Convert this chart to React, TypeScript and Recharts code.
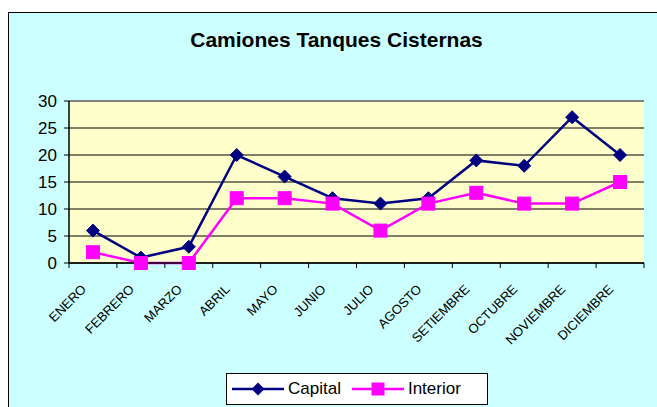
import React from 'react';
import { LineChart, Line, XAxis, YAxis, CartesianGrid, ReferenceLine } from 'recharts';

const months = ['ENERO', 'FEBRERO', 'MARZO', 'ABRIL', 'MAYO', 'JUNIO', 'JULIO', 'AGOSTO', 'SETIEMBRE', 'OCTUBRE', 'NOVIEMBRE', 'DICIEMBRE'];
const capital = [6, 1, 3, 20, 16, 12, 11, 12, 19, 18, 27, 20];
const interior = [2, 0, 0, 12, 12, 11, 6, 11, 13, 11, 11, 15];
const yTicks = [0, 5, 10, 15, 20, 25, 30];

const data = months.map((m, i) => ({ month: m, Capital: capital[i], Interior: interior[i] }));

const FONT = 'Arial, "Liberation Sans", sans-serif';
const W = 657;
const H = 407;
const M = { top: 101, right: 13, bottom: 0, left: 0 };
const Y_W = 69;
const X_H = 144;
const STEP = (W - M.left - M.right - Y_W) / months.length;

const NAVY = '#000080';
const MAGENTA = '#ff00ff';

const Diamond = (props: any) => {
  const { cx, cy } = props;
  if (cx == null || cy == null) return null;
  const r = 6.5;
  return <path d={`M${cx},${cy - r}L${cx + r},${cy}L${cx},${cy + r}L${cx - r},${cy}Z`} fill={NAVY} stroke={NAVY} strokeWidth={1} />;
};

const Square = (props: any) => {
  const { cx, cy } = props;
  if (cx == null || cy == null) return null;
  const s = 6.5;
  return <rect x={cx - s} y={cy - s} width={2 * s} height={2 * s} fill={MAGENTA} stroke={MAGENTA} strokeWidth={1} />;
};

const XTick = (props: any) => {
  const { x, y, payload, index } = props;
  const half = STEP / 2;
  const tx = x - 6;
  const ty = y + 27;
  return (
    <g>
      <line x1={x - half} x2={x - half} y1={y} y2={y + 5} stroke="#000" strokeWidth={1} />
      {index === months.length - 1 && (
        <line x1={x + half} x2={x + half} y1={y} y2={y + 5} stroke="#000" strokeWidth={1} />
      )}
      <text x={tx} y={ty} textAnchor="end" transform={`rotate(-45, ${tx}, ${ty})`} fontSize={13} fontFamily={FONT} fill="#000">
        {payload.value}
      </text>
    </g>
  );
};

const LegendBox = () => (
  <div
    style={{
      position: 'absolute',
      left: 226,
      top: 373,
      width: 260,
      height: 30,
      background: '#fff',
      border: '1px solid #000',
      display: 'flex',
      alignItems: 'center',
      fontFamily: FONT,
      fontSize: 17,
      color: '#000',
    }}
  >
    <svg width={52} height={16} style={{ marginLeft: 5 }}>
      <line x1={0} x2={52} y1={8} y2={8} stroke={NAVY} strokeWidth={2.5} />
      <path d="M26,1.5L32.5,8L26,14.5L19.5,8Z" fill={NAVY} />
    </svg>
    <span style={{ marginLeft: 4 }}>Capital</span>
    <svg width={52} height={16} style={{ marginLeft: 11 }}>
      <line x1={0} x2={52} y1={8} y2={8} stroke={MAGENTA} strokeWidth={2.5} />
      <rect x={19.5} y={1.5} width={13} height={13} fill={MAGENTA} />
    </svg>
    <span style={{ marginLeft: 4 }}>Interior</span>
  </div>
);

export default function App() {
  return (
    <div style={{ position: 'absolute', left: 0, top: 0, width: W, height: H, background: '#fff', overflow: 'hidden' }}>
      <div
        style={{
          position: 'absolute',
          left: 8,
          top: 12,
          width: 660,
          height: 420,
          background: '#ccffff',
          border: '1.5px solid #000',
          boxSizing: 'border-box',
        }}
      />
      <div
        style={{
          position: 'absolute',
          left: 0,
          top: 28,
          width: 673,
          textAlign: 'center',
          fontFamily: FONT,
          fontWeight: 'bold',
          fontSize: 21,
          lineHeight: '24px',
          color: '#000',
        }}
      >
        Camiones Tanques Cisternas
      </div>
      <div style={{ position: 'absolute', left: 0, top: 0 }}>
        <LineChart width={W} height={H} data={data} margin={M}>
          <CartesianGrid vertical={false} stroke="#000" fill="#ffffcc" strokeWidth={1} />
          <XAxis
            dataKey="month"
            height={X_H}
            interval={0}
            tickLine={false}
            tickSize={0}
            tickMargin={0}
            padding={{ left: STEP / 2, right: STEP / 2 }}
            axisLine={{ stroke: '#000', strokeWidth: 1.5 }}
            tick={<XTick />}
          />
          <YAxis
            width={Y_W}
            domain={[0, 30]}
            ticks={yTicks}
            interval={0}
            tickSize={5}
            tickMargin={7}
            axisLine={{ stroke: '#000', strokeWidth: 1.5 }}
            tickLine={{ stroke: '#000' }}
            tick={{ fill: '#000', fontSize: 17, fontFamily: FONT }}
          />
          <YAxis
            yAxisId="right"
            orientation="right"
            width={0}
            domain={[0, 30]}
            tick={false}
            tickLine={false}
            axisLine={{ stroke: '#808080', strokeWidth: 2 }}
          />
          <ReferenceLine y={30} stroke="#808080" strokeWidth={2} />
          <Line
            dataKey="Capital"
            stroke={NAVY}
            strokeWidth={2.5}
            dot={<Diamond />}
            activeDot={false}
            isAnimationActive={false}
          />
          <Line
            dataKey="Interior"
            stroke={MAGENTA}
            strokeWidth={2.5}
            dot={<Square />}
            activeDot={false}
            isAnimationActive={false}
          />
        </LineChart>
      </div>
      <LegendBox />
    </div>
  );
}
